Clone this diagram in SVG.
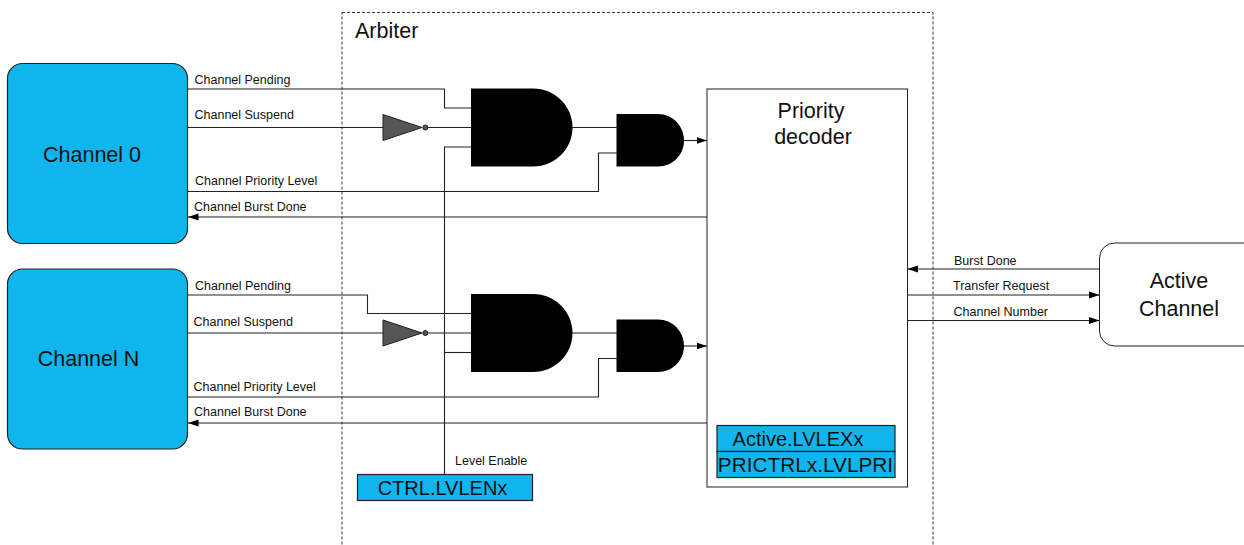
<svg xmlns="http://www.w3.org/2000/svg" width="1244" height="545" viewBox="0 0 1244 545">
<style>
text{font-family:"Liberation Sans",Arial,sans-serif;fill:#111}
.s{font-size:12.500px}
.m{font-size:21.500px}
.w{font-size:21.500px;text-anchor:middle}
.r{font-size:20px;text-anchor:middle}
.c{fill:#10b5ee;stroke:#222;stroke-width:1.2}
.l{fill:none;stroke:#222;stroke-width:1.100}
.g{fill:#000;stroke:none}
.i{fill:#555;stroke:#222;stroke-width:1}
</style>
<defs>
<marker id="a" markerUnits="userSpaceOnUse" markerWidth="11" markerHeight="8" refX="10.5" refY="4" orient="auto"><path d="M0 .5L10.5 4L0 7.5z" fill="#000"/></marker>
</defs>
<g id="arbiter"><rect x="342" y="12.500" width="591" height="540" fill="none" stroke="#333" stroke-width="1" stroke-dasharray="3 2"/><text x="355" y="38" class="m">Arbiter</text></g>
<g id="connectors" class="conn">
<path class="l" d="M188 89H444.500V108H471"/>
<path class="l" d="M188 127.500H383M428 127.500H471"/>
<path class="l" d="M471 147H444.500V474"/>
<path class="l" d="M188 191.500H598.500V153H617"/>
<path class="l" d="M572 127.500H617"/>
<path class="l" d="M684 140.500H707" marker-end="url(#a)"/>
<path class="l" d="M707 217H188" marker-end="url(#a)"/>
<path class="l" d="M188 295H367.500V313.500H471"/>
<path class="l" d="M188 333H383M428 333H471"/>
<path class="l" d="M444.500 352.500H471"/>
<path class="l" d="M188 397H598.500V358.500H617"/>
<path class="l" d="M572 333H617"/>
<path class="l" d="M684 346H707" marker-end="url(#a)"/>
<path class="l" d="M707 423H188" marker-end="url(#a)"/>
<path class="l" d="M1099.500 269H907.500" marker-end="url(#a)"/>
<path class="l" d="M907.500 295H1099.500" marker-end="url(#a)"/>
<path class="l" d="M907.500 320.500H1099.500" marker-end="url(#a)"/>
</g>
<g id="channel0"><rect x="7.500" y="63.500" width="180" height="180" rx="15" class="c"/><text x="92" y="162" class="w">Channel 0</text></g>
<g id="channelN"><rect x="7.500" y="269" width="180" height="180" rx="15" class="c"/><text x="88.500" y="366" class="w">Channel N</text></g>
<g id="active-channel"><rect x="1099.500" y="243" width="160" height="103" rx="15" fill="#fff" stroke="#222"/><text x="1179" y="288" class="w">Active</text><text x="1179" y="315.500" class="w">Channel</text></g>
<g id="priority-decoder"><rect x="707" y="89" width="200.500" height="398" fill="#fff" stroke="#222"/><text x="811" y="118" class="w">Priority</text><text x="813" y="144" class="w">decoder</text></g>
<g id="active-lvlex"><rect x="717" y="425.500" width="178" height="26" class="c"/><text x="798" y="445.500" class="r">Active.LVLEXx</text></g>
<g id="prictrl-lvlpri"><rect x="717" y="451.500" width="178" height="26" class="c"/><text x="805.500" y="471.500" class="r" style="font-size:20.800px">PRICTRLx.LVLPRI</text></g>
<g id="ctrl-lvlen"><rect x="357.500" y="474.500" width="175" height="26" class="c"/><text x="442.500" y="494.500" class="r">CTRL.LVLENx</text></g>
<g id="and-1a"><path class="g" d="M471 88.500H533C555 88.500 572.500 106 572.500 127.500S555 166.500 533 166.500H471z"/></g>
<g id="and-1b"><path class="g" d="M616.500 114H658C672.500 114 684 126 684 140.500S672.500 166.500 658 166.500H616.500z"/></g>
<g id="inv-1"><path class="i" d="M383 114.500L422 127.500L383 140.500z"/><circle class="i" cx="425.300" cy="127.500" r="2.500"/></g>
<g id="and-2a"><path class="g" d="M471 294H533C555 294 572.500 311.500 572.500 333S555 372 533 372H471z"/></g>
<g id="and-2b"><path class="g" d="M616.500 319.500H658C672.500 319.500 684 331.500 684 346S672.500 372 658 372H616.500z"/></g>
<g id="inv-2"><path class="i" d="M383 320L422 333L383 346z"/><circle class="i" cx="425.300" cy="333" r="2.500"/></g>
<g id="labels">
<text x="194.500" y="84" class="s">Channel Pending</text>
<text x="194.500" y="119" class="s">Channel Suspend</text>
<text x="195" y="185" class="s">Channel Priority Level</text>
<text x="194" y="210.500" class="s">Channel Burst Done</text>
<text x="195" y="290" class="s">Channel Pending</text>
<text x="193.500" y="325.500" class="s">Channel Suspend</text>
<text x="193.500" y="391" class="s">Channel Priority Level</text>
<text x="194" y="416" class="s">Channel Burst Done</text>
<text x="455" y="465" class="s">Level Enable</text>
<text x="954" y="265" class="s">Burst Done</text>
<text x="953" y="290" class="s">Transfer Request</text>
<text x="953.500" y="316" class="s">Channel Number</text>
</g>
</svg>
